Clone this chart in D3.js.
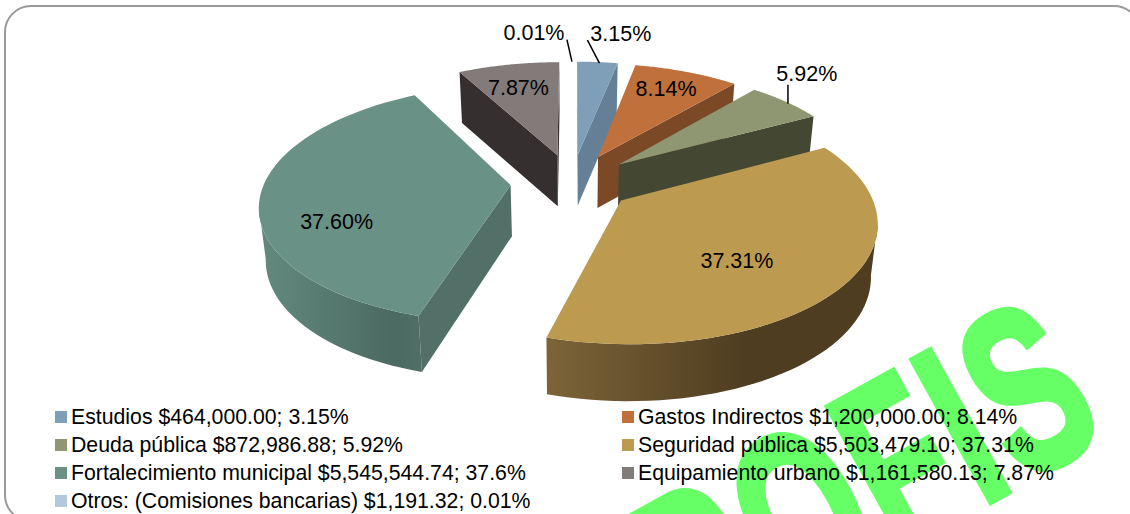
<!DOCTYPE html>
<html>
<head>
<meta charset="utf-8">
<script src="https://cdn.jsdelivr.net/npm/d3@7"></script>
<style>
    html, body { margin: 0; padding: 0; background: #fff; }
    svg { display: block; }
    text { font-family: "Liberation Sans", Arial, sans-serif; fill: #000; }
</style>
</head>
<body>
<script>
var categories = ['Estudios', 'Gastos Indirectos', 'Deuda pública', 'Seguridad pública',
    'Fortalecimiento municipal', 'Equipamiento urbano', 'Otros: (Comisiones bancarias)'];
var amounts = [464000.00, 1200000.00, 872986.88, 5503479.10, 5545544.74, 1161580.13, 1191.32];
var percentLabels = ['3.15%', '8.14%', '5.92%', '37.31%', '37.60%', '7.87%', '0.01%'];
var legendLabels = ['$464,000.00; 3.15%', '$1,200,000.00; 8.14%', '$872,986.88; 5.92%', '$5,503,479.10; 37.31%',
    '$5,545,544.74; 37.6%', '$1,161,580.13; 7.87%', '$1,191.32; 0.01%'];
var topColors = ['#7f9fb9', '#c0703b', '#8f9672', '#bc9b50', '#6a9186', '#837a7a', '#f1f4f8'];
var wallColors = ['#647f96', '#7c4926', '#444833', '#7d6438', '#527068', '#352f2f', '#eef1f5'];
var rimColors = [null, null, null, ['#7d6438', '#4e3d20', '#4e3d20'], ['#638a7f', '#4b6a61', '#4f6e65'], null, null];
var legendSwatches = ['#7f9fb9', '#c0703b', '#8f9672', '#bc9b50', '#6a9186', '#837a7a', '#b3c8dc'];

var width = 1130, height = 514,
    centerX = 572, centerY = 182,
    explode = 0.25,
    radiusX = 246, radiusY = 115,
    perspective = 0.155,
    wallHeight = 51,
    wallTaper = 0.978;

// label centres relative to each slice's apex, leader ends relative to rim mid point
var labelOffsets = [[43, -120], [68, -68], [188, -90], [116, 60], [-174, 37], [-39, -67], [-38, -121]];
var leaders = [[[-10, -22], [2, 1]], null, [[2, -17], [2, 2]], null, null, null, [[-5, -22], [0, 0]]];

var xScale = d3.scaleLinear().domain([-1, 1]).range([-radiusX, radiusX]),
    zScale = d3.scaleLinear().domain([-1, 1]).range([-radiusY, radiusY]);

var slices = d3.pie().sort(null).value(function(d) { return d; })(amounts);

// r = 0 is the slice's apex, r = 1 its rim; the explode offset goes through the perspective too
function project(slice, angle, r) {
    var mid = (slice.startAngle + slice.endAngle) / 2,
        x = explode * Math.sin(mid) + r * Math.sin(angle),
        z = -explode * Math.cos(mid) - r * Math.cos(angle),
        s = 1 / (1 - perspective * z);
    return [centerX + xScale(x) * s, centerY + zScale(z) * s, z, s];
}

function drop(p) {
    return [centerX + (p[0] - centerX) * wallTaper, p[1] + wallHeight * (1 + 0.1 * Math.max(p[2], 0))];
}

var svg = d3.select('body').append('svg').attr('width', width).attr('height', height);
var defs = svg.append('defs');
var line = d3.line().x(function(d) { return d[0]; }).y(function(d) { return d[1]; });

// watermark sits behind everything
svg.append('text')
    .attr('transform', 'translate(1114,433) rotate(-29) scale(0.64,1)')
    .attr('text-anchor', 'end')
    .style('font-size', '234px')
    .style('font-weight', 'bold')
    .style('letter-spacing', '8px')
    .style('fill', '#66ff66')
    .style('stroke', '#66ff66')
    .style('stroke-width', 6)
    .style('vector-effect', 'non-scaling-stroke')
    .text('PROFIS');

svg.append('rect')
    .attr('x', 5).attr('y', 6)
    .attr('width', 1135).attr('height', 515)
    .attr('rx', 26).attr('ry', 26)
    .attr('fill', 'none')
    .attr('stroke', '#9a9a9a')
    .attr('stroke-width', 2);

var drawOrder = [6, 5, 0, 1, 2, 4, 3];

drawOrder.forEach(function(i) {
    var slice = slices[i],
        g = svg.append('g').attr('class', 'slice'),
        apex = project(slice, 0, 0),
        steps = d3.range(0, 61).map(function(k) {
            return project(slice, slice.startAngle + (slice.endAngle - slice.startAngle) * k / 60, 1);
        }),
        first = steps[0],
        last = steps[steps.length - 1];

    var walls = [
        [first, apex, drop(apex), drop(first)],
        [apex, last, drop(last), drop(apex)]
    ];
    walls.forEach(function(w) {
        if (d3.polygonArea(w) < 0) {
            g.append('path').attr('d', line(w) + 'Z').attr('fill', wallColors[i]);
        }
    });

    // only the part of the rim that faces the viewer
    var front = steps.filter(function(p, k) {
        return (k < steps.length - 1 && steps[k + 1][0] < p[0]) || (k > 0 && steps[k - 1][0] > p[0]);
    }).filter(function(p) { return p[2] > -0.3; });

    if (front.length > 1 && rimColors[i]) {
        var xs = d3.extent(front, function(d) { return d[0]; });
        var grad = defs.append('linearGradient')
            .attr('id', 'rim' + i)
            .attr('gradientUnits', 'userSpaceOnUse')
            .attr('x1', xs[0]).attr('x2', xs[1]).attr('y1', 0).attr('y2', 0);
        grad.append('stop').attr('offset', 0).attr('stop-color', rimColors[i][0]);
        grad.append('stop').attr('offset', i === 3 ? 0.6 : 0.85).attr('stop-color', rimColors[i][1]);
        grad.append('stop').attr('offset', 1).attr('stop-color', rimColors[i][2]);
        var band = front.concat(front.slice().reverse().map(drop));
        g.append('path').attr('d', line(band) + 'Z').attr('fill', 'url(#rim' + i + ')');
    }

    g.append('path')
        .attr('d', line([apex].concat(steps)) + 'Z')
        .attr('fill', topColors[i]);
});

// percentage labels and leader lines
slices.forEach(function(slice, i) {
    var apex = project(slice, 0, 0),
        mid = project(slice, (slice.startAngle + slice.endAngle) / 2, 1);
    if (leaders[i]) {
        svg.append('line')
            .attr('x1', mid[0] + leaders[i][0][0]).attr('y1', mid[1] + leaders[i][0][1])
            .attr('x2', mid[0] + leaders[i][1][0]).attr('y2', mid[1] + leaders[i][1][1])
            .attr('stroke', '#000').attr('stroke-width', 1.5);
    }
    svg.append('text')
        .attr('x', apex[0] + labelOffsets[i][0])
        .attr('y', apex[1] + labelOffsets[i][1])
        .attr('text-anchor', 'middle')
        .attr('dominant-baseline', 'central')
        .style('font-size', '21.5px')
        .text(percentLabels[i]);
});

// legend, two columns filled row by row
var legendX = d3.scaleOrdinal().domain([0, 1]).range([55, 622]),
    legendY = d3.scalePoint().domain([0, 1, 2, 3]).range([417, 501]);

categories.forEach(function(name, i) {
    var col = i % 2, row = Math.floor(i / 2);
    var g = svg.append('g').attr('transform', 'translate(' + legendX(col) + ',' + legendY(row) + ')');
    g.append('rect').attr('x', 0).attr('y', -6).attr('width', 12).attr('height', 12).attr('fill', legendSwatches[i]);
    g.append('text')
        .attr('x', 16)
        .attr('dominant-baseline', 'central')
        .style('font-size', '21.25px')
        .text(name + ' ' + legendLabels[i]);
});
</script>
</body>
</html>
